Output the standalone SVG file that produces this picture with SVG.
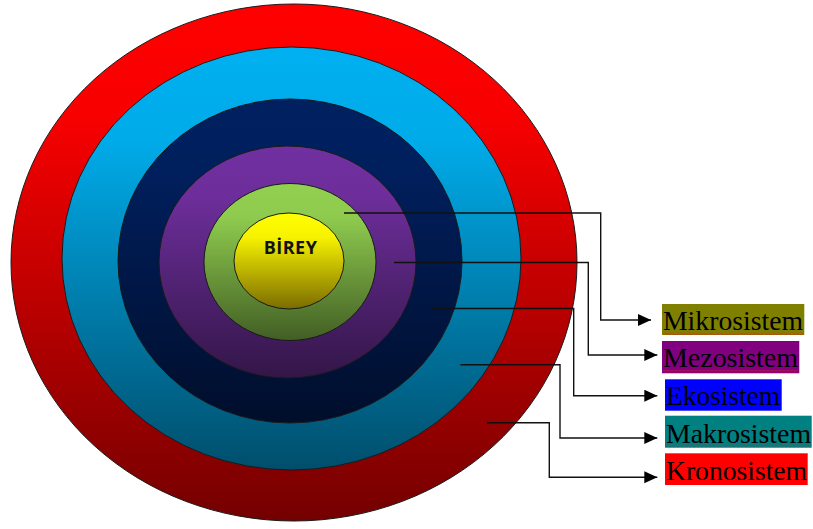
<svg xmlns="http://www.w3.org/2000/svg" width="813" height="529" viewBox="0 0 813 529">
  <defs>
    <linearGradient id="gRed" x1="0" y1="0" x2="0" y2="1">
      <stop offset="0" stop-color="#FF0000"/>
      <stop offset="0.22" stop-color="#F80000"/>
      <stop offset="1" stop-color="#740000"/>
    </linearGradient>
    <linearGradient id="gBlue" x1="0" y1="0" x2="0" y2="1">
      <stop offset="0" stop-color="#00B0F0"/>
      <stop offset="0.22" stop-color="#00ABE9"/>
      <stop offset="1" stop-color="#004E6C"/>
    </linearGradient>
    <linearGradient id="gNavy" x1="0" y1="0" x2="0" y2="1">
      <stop offset="0" stop-color="#002060"/>
      <stop offset="0.22" stop-color="#001F5D"/>
      <stop offset="1" stop-color="#000E2B"/>
    </linearGradient>
    <linearGradient id="gPurple" x1="0" y1="0" x2="0" y2="1">
      <stop offset="0" stop-color="#7030A0"/>
      <stop offset="0.22" stop-color="#6D2E9B"/>
      <stop offset="1" stop-color="#331648"/>
    </linearGradient>
    <linearGradient id="gGreen" x1="0" y1="0" x2="0" y2="1">
      <stop offset="0" stop-color="#92D050"/>
      <stop offset="0.22" stop-color="#8ECA4E"/>
      <stop offset="1" stop-color="#425E24"/>
    </linearGradient>
    <linearGradient id="gYellow" x1="0" y1="0" x2="0" y2="1">
      <stop offset="0" stop-color="#FFFF00"/>
      <stop offset="0.25" stop-color="#F7F200"/>
      <stop offset="1" stop-color="#7A6C00"/>
    </linearGradient>
    <pattern id="wave" patternUnits="userSpaceOnUse" x="0" y="0" width="4" height="3">
      <path d="M0,2.5 L2,0.5 L4,2.5" fill="none" stroke="#E02020" stroke-width="0.8"/>
    </pattern>
    <marker id="arrow" markerUnits="userSpaceOnUse" markerWidth="14" markerHeight="13" refX="13" refY="6" orient="auto">
      <path d="M0,0 L13,6 L0,12 Z" fill="#000"/>
    </marker>
  </defs>
  <style>
    .ring { stroke: #1a1a1a; stroke-width: 1; }
    .conn { fill: none; stroke: #111; stroke-width: 1.4; marker-end: url(#arrow); }
    .lbl { font-family: "Liberation Serif", "Times New Roman", serif; font-size: 28px; fill: #000; }
    .squig { fill: url(#wave); }
    .center { font-family: "Open Sans", "Liberation Sans", sans-serif; font-weight: bold; font-size: 18px; fill: #111; }
  </style>

  <g id="kronosistem-ring"><ellipse class="ring" cx="294" cy="262.5" rx="283" ry="258.5" fill="url(#gRed)"/></g>
  <g id="makrosistem-ring"><ellipse class="ring" cx="291.5" cy="258.5" rx="229.5" ry="211.5" fill="url(#gBlue)"/></g>
  <g id="ekosistem-ring"><ellipse class="ring" cx="290" cy="261" rx="172" ry="162" fill="url(#gNavy)"/></g>
  <g id="mezosistem-ring"><ellipse class="ring" cx="287.5" cy="262" rx="128.5" ry="116" fill="url(#gPurple)"/></g>
  <g id="mikrosistem-ring"><ellipse class="ring" cx="290" cy="262" rx="86" ry="78.5" fill="url(#gGreen)"/></g>
  <g id="birey">
    <ellipse class="ring" cx="289" cy="261" rx="55" ry="48" fill="url(#gYellow)"/>
    <text class="center" x="290.5" y="253.5" text-anchor="middle" letter-spacing="0.5">BİREY</text>
  </g>

  <g id="connectors">
    <path class="conn" d="M344,213 H600.7 V320 H651"/>
    <path class="conn" d="M394,262.5 H588.3 V355 H657.3"/>
    <path class="conn" d="M430.5,308.5 H573.7 V395.7 H657.3"/>
    <path class="conn" d="M460.4,364.7 H560 V438 H657.3"/>
    <path class="conn" d="M487,422.7 H549.3 V477.3 H657.3"/>
  </g>

  <g id="label-mikrosistem">
    <rect x="662" y="304" width="142.3" height="31" fill="#808000"/>
    <text class="lbl" x="663" y="329.5" textLength="140" lengthAdjust="spacingAndGlyphs">Mikrosistem</text>
    <rect class="squig" x="663" y="332" width="140" height="3"/>
  </g>
  <g id="label-mezosistem">
    <rect x="662" y="341" width="137.3" height="32.3" fill="#800080"/>
    <text class="lbl" x="663" y="366.7" textLength="135" lengthAdjust="spacingAndGlyphs">Mezosistem</text>
    <rect class="squig" x="663" y="370" width="135" height="3"/>
  </g>
  <g id="label-ekosistem">
    <rect x="665" y="379.3" width="116.7" height="31.4" fill="#0000FF"/>
    <text class="lbl" x="666" y="404.5" textLength="114" lengthAdjust="spacingAndGlyphs">Ekosistem</text>
  </g>
  <g id="label-makrosistem">
    <rect x="665" y="415.7" width="146.7" height="32" fill="#008080"/>
    <text class="lbl" x="666" y="442.5" textLength="145" lengthAdjust="spacingAndGlyphs">Makrosistem</text>
    <rect class="squig" x="666" y="444.5" width="145" height="3"/>
  </g>
  <g id="label-kronosistem">
    <rect x="665" y="453.3" width="142.7" height="31.7" fill="#FF0000"/>
    <text class="lbl" x="666" y="480" textLength="141" lengthAdjust="spacingAndGlyphs">Kronosistem</text>
  </g>
</svg>
